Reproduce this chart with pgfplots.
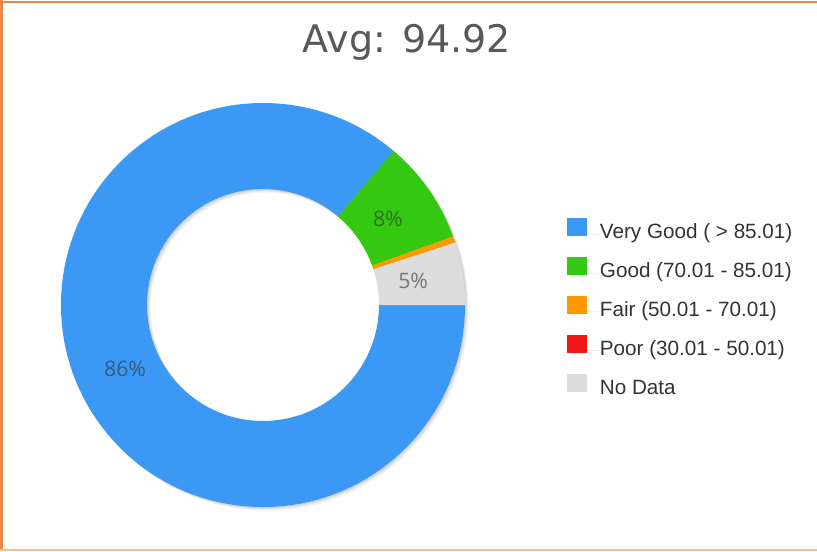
\documentclass[border=0pt]{standalone}
\usepackage{pgfplots}
\pgfplotsset{compat=1.18}
\usepackage{pgfplotstable}
\usepackage{fontspec}
\setmainfont{Liberation Sans}
\newfontfamily\lblfont{Open Sans}
\newfontfamily\ttlfont{DejaVu Sans}

\definecolor{cVG}{RGB}{59,152,245}
\definecolor{cGood}{RGB}{52,200,16}
\definecolor{cFair}{RGB}{255,153,0}
\definecolor{cPoor}{RGB}{238,22,22}
\definecolor{cND}{RGB}{221,221,221}
\definecolor{frameor}{RGB}{232,134,76}
\definecolor{framelt}{RGB}{246,190,150}
\definecolor{ttl}{RGB}{88,88,88}
\definecolor{lgd}{RGB}{51,51,51}

% share of each class, in percent
\pgfplotstableread[col sep=comma]{
label,value,col
Very Good ( > 85.01),86.2,cVG
Good (70.01 - 85.01),8.3,cGood
Fair (50.01 - 70.01),0.5,cFair
Poor (30.01 - 50.01),0,cPoor
No Data,5.0,cND
}\slices

\begin{document}
\begin{tikzpicture}
\def\cx{263}\def\cy{246}
\def\Ro{151.5pt}  % outer radius
\def\Ri{87pt}     % inner radius
\def\Rm{114pt}    % label radius
\begin{axis}[
  x=0.75pt, y=0.75pt,
  xmin=0, xmax=817, ymin=0, ymax=551,
  hide axis, clip=false,
  legend cell align=left,
  legend image code/.code={\fill[#1, draw=none] (0pt,-1.6pt) rectangle (15pt,11.9pt);
    \path[draw=none] (0pt,0pt) -- (24.5pt,0pt);},
  legend style={draw=none, fill=none, inner sep=0pt,
    at={(axis cs:567,333)}, anchor=north west,
    font=\fontsize{15.5}{17}\selectfont, text=lgd,
    nodes={inner sep=0pt, text height=11pt, text depth=4pt},
    row sep=9.75pt},
]
\addplot[draw=none, forget plot] coordinates {(0,0)(817,551)};
\pgfplotsforeachungrouped \i in {0,...,4}{%
  \pgfplotstablegetelem{\i}{col}\of\slices \let\col\pgfplotsretval
  \pgfplotstablegetelem{\i}{label}\of\slices \let\lab\pgfplotsretval
  \edef\tmp{\noexpand\addlegendimage{fill=\col}\noexpand\addlegendentry{\lab}}\tmp
}
\pgfplotsextra{%
  % frame
  \fill[frameor] (axis cs:0,0) rectangle (axis cs:2.5,551);
  \fill[frameor] (axis cs:0,547.5) rectangle (axis cs:817,550);
  \fill[framelt] (axis cs:0,0) rectangle (axis cs:817,2.5);
  % shadow
  \foreach \k/\op in {1/0.05,2/0.05,3/0.045,4/0.035,5/0.025}{%
    \fill[black, opacity=\op, even odd rule, shift={(\k*0.6pt,-\k*0.6pt)}]
      (axis cs:\cx,\cy) circle[radius=\Ro] (axis cs:\cx,\cy) circle[radius=\Ri];
  }
  % slices, clockwise from 3 o'clock
  \def\angA{360}
  \pgfplotsforeachungrouped \i in {0,...,4}{%
    \pgfplotstablegetelem{\i}{value}\of\slices \let\val\pgfplotsretval
    \pgfplotstablegetelem{\i}{col}\of\slices \let\col\pgfplotsretval
    \pgfmathsetmacro\angB{\angA-3.6*\val}
    \fill[fill=\col] ([shift={(axis cs:\cx,\cy)}]\angA:\Ro)
      arc[start angle=\angA, end angle=\angB, radius=\Ro]
      -- ([shift={(axis cs:\cx,\cy)}]\angB:\Ri)
      arc[start angle=\angB, end angle=\angA, radius=\Ri] -- cycle;
    \pgfmathtruncatemacro\showlbl{\val>=3}
    \ifnum\showlbl=1
      \pgfmathsetmacro\mid{(\angA+\angB)/2}
      \pgfmathtruncatemacro\pct{round(\val)}
      \node[font=\lblfont\fontsize{16}{16}\selectfont, text=black!80, text opacity=0.6]
        at ([shift={(axis cs:\cx,\cy)}]\mid:\Rm) {\pct\%};
    \fi
    \let\angA\angB
  }
  % title
  \node[font=\ttlfont\fontsize{28.5}{30}\selectfont, text=ttl] at (axis cs:407,509) {Avg: 94.92};
}
\end{axis}
\end{tikzpicture}
\end{document}
